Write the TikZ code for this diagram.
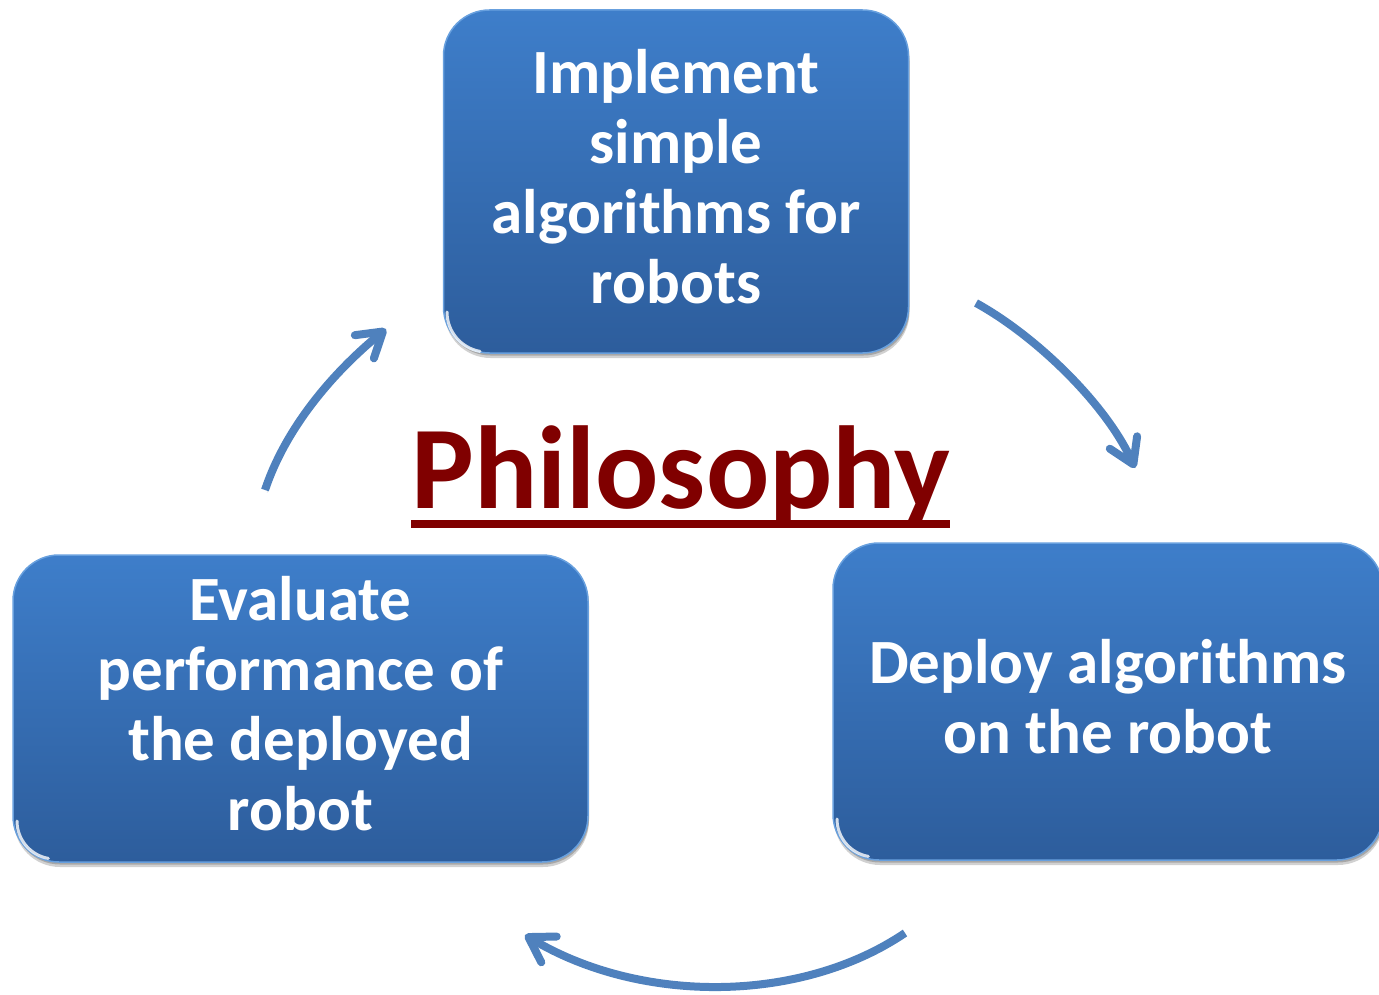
\documentclass[tikz,border=0pt]{standalone}
\usepackage{fontspec}
\newfontfamily\calibri{Carlito}
\usetikzlibrary{arrows.meta,shadows}
\definecolor{boxtop}{RGB}{62,126,202}
\definecolor{boxbot}{RGB}{45,93,156}
\definecolor{boxedge}{RGB}{104,160,222}
\definecolor{arrowblue}{RGB}{79,129,189}
\definecolor{titlered}{RGB}{128,0,0}
\tikzset{
  stepbox/.style={rectangle, rounded corners=46pt, top color=boxtop, bottom color=boxbot,
    draw=boxedge, line width=1.5pt, text=white, align=center, text depth=10pt,
    font=\calibri\bfseries\fontsize{63pt}{70pt}\selectfont,
    drop shadow={shadow xshift=1pt, shadow yshift=-5pt, opacity=.18, fill=black},
    drop shadow={shadow xshift=1pt, shadow yshift=-2.5pt, opacity=.2, fill=black}},
  glint/.style={draw=white, line width=3pt, opacity=.8, line cap=round},
  cyclearrow/.style={draw=arrowblue, line width=8pt,
    -{Straight Barb[length=24pt, width=30pt, line cap=round, line join=round]},
    preaction={draw=black, opacity=.12, transform canvas={shift={(2pt,-3pt)}}}},
}
\begin{document}
\begin{tikzpicture}[x=1pt, y=-1pt]
  \useasboundingbox (0,0) rectangle (1379,995);

  % the three steps of the cycle
  \node[stepbox, minimum width=465pt, minimum height=343pt] (impl) at (676,181.5)
    {Implement\\simple\\algorithms for\\robots};
  \node[stepbox, minimum width=550pt, minimum height=317pt] (deploy) at (1108,701.5)
    {Deploy algorithms\\on the robot};
  \node[stepbox, minimum width=575pt, minimum height=307pt] (eval) at (300.5,708.5)
    {Evaluate\\performance of\\the deployed\\robot};

  % bright glint on the lower left corners
  \draw[glint] (447,312) arc[start angle=180, end angle=100, radius=40];
  \draw[glint] (837,819) arc[start angle=180, end angle=100, radius=38];
  \draw[glint] (17,821) arc[start angle=180, end angle=100, radius=38];

  % central title
  \node[font=\calibri\bfseries\fontsize{118pt}{122pt}\selectfont, text=titlered,
        anchor=base, inner sep=0pt] (phil) at (680.5,508) {Philosophy};
  \fill[titlered] (phil.base west |- 0,520) rectangle (phil.base east |- 0,528);

  % curved arrows between the steps
  \coordinate (a1s) at (976,303);
  \coordinate (a1e) at (1135,468);
  \coordinate (a2s) at (905,933);
  \coordinate (a2e) at (525,935);
  \coordinate (a3s) at (265,490);
  \coordinate (a3e) at (386,329);
  \draw[cyclearrow] (a1s) .. controls (1036,336) and (1106,404) .. (a1e);
  \draw[cyclearrow] (a2s) .. controls (800,1004) and (640,1004) .. (a2e);
  \draw[cyclearrow] (a3s) .. controls (285,430) and (330,375) .. (a3e);
\end{tikzpicture}
\end{document}
